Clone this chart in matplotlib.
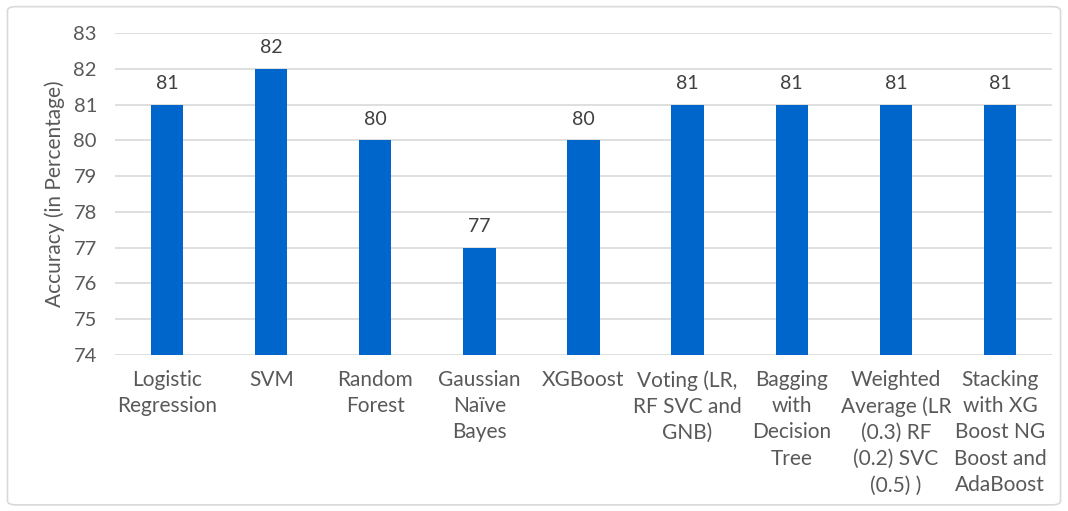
import matplotlib.pyplot as plt
from matplotlib.patches import FancyBboxPatch

models = ["Logistic\nRegression", "SVM", "Random\nForest", "Gaussian\nNaïve\nBayes",
          "XGBoost", "Voting (LR,\nRF SVC and\nGNB)", "Bagging\nwith\nDecision\nTree",
          "Weighted\nAverage (LR\n(0.3) RF\n(0.2) SVC\n(0.5) )",
          "Stacking\nwith XG\nBoost NG\nBoost and\nAdaBoost"]
accuracy = [81, 82, 80, 77, 80, 81, 81, 81, 81]
yticks = [74, 75, 76, 77, 78, 79, 80, 81, 82, 83]

txt = "#595959"
plt.rcParams['font.family'] = ['Lato', 'DejaVu Sans']

fig = plt.figure(figsize=(10.68, 5.11), dpi=100)
fig.patches.append(FancyBboxPatch((0.007, 0.012), 0.986, 0.975, boxstyle="round,pad=0,rounding_size=0.008",
                                  transform=fig.transFigure, fill=False, edgecolor="#D9D9D9", lw=1.2))
ax = fig.add_axes([0.1077, 0.3053, 0.8773, 0.6301])

x = range(len(models))
ax.bar(x, accuracy, width=0.31, color="#0066CC", zorder=3)
for i, v in enumerate(accuracy):
    ax.text(i, v + 0.35, str(v), ha="center", va="bottom", fontsize=14, color="#404040")

ax.set_ylim(74, 83)
ax.set_xlim(-0.5, len(models) - 0.5)
ax.set_yticks(yticks)
ax.set_xticks(list(x))
ax.set_xticklabels(models, fontsize=15, color=txt, linespacing=1.38)
ax.tick_params(axis="y", labelsize=14.5, labelcolor=txt, length=0, pad=13)
ax.tick_params(axis="x", length=0, pad=11)
ax.grid(axis="y", color="#D9D9D9", lw=1.2, zorder=0)
for s in ax.spines.values():
    s.set_visible(False)
ax.set_ylabel("Accuracy (in Percentage)", fontsize=15, color=txt, labelpad=6)

fig.savefig("out.png", dpi=100)
